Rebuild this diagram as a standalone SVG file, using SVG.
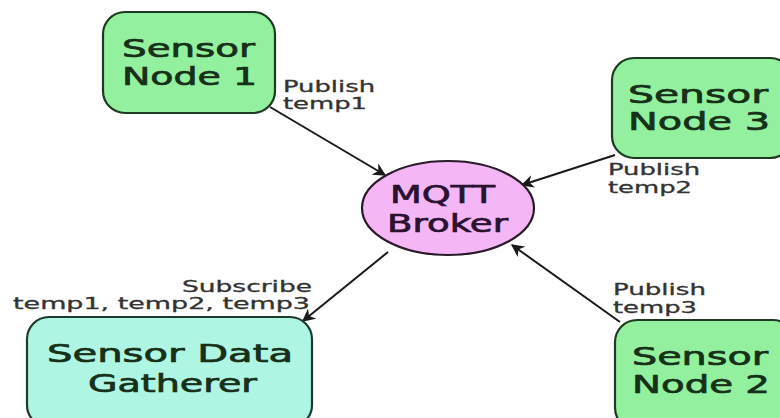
<svg xmlns="http://www.w3.org/2000/svg" width="780" height="418" viewBox="0 0 780 418">
<style>
.sensor{fill:#92f09f;stroke:#1e3a22;stroke-width:2.2}
.gath{fill:#aef5e3;stroke:#1e3a2e;stroke-width:2.2}
.broker{fill:#f4b6f4;stroke:#2a1a2a;stroke-width:2.2}
.nt{font-family:"DejaVu Sans",sans-serif;font-size:25px;fill:#173018;stroke:#173018;stroke-width:0.7}
.bt{font-family:"DejaVu Sans",sans-serif;font-size:25px;fill:#2a1230;stroke:#2a1230;stroke-width:0.7}
.lb{font-family:"DejaVu Sans",sans-serif;font-size:15px;fill:#333333;stroke:#333333;stroke-width:0.3}
.conn{stroke:#1a1a1a;stroke-width:2;fill:none;marker-end:url(#ah)}
</style>
<defs>
<marker id="ah" viewBox="0 0 10 10" refX="9" refY="5" markerWidth="6.5" markerHeight="6.5" markerUnits="strokeWidth" orient="auto">
<path d="M0,0 L10,5 L0,10 L3,5 Z" fill="#1a1a1a"/>
</marker>
</defs>
<rect width="780" height="418" fill="#ffffff"/>
<g id="connectors">
<line class="conn" x1="270" y1="107" x2="385" y2="175"/>
<line class="conn" x1="615" y1="155" x2="522" y2="185"/>
<line class="conn" x1="620" y1="322" x2="512" y2="245"/>
<line class="conn" x1="388" y1="252" x2="303" y2="321"/>
<text class="lb" x="283" y="92" textLength="92" lengthAdjust="spacingAndGlyphs">Publish</text>
<text class="lb" x="283" y="109" textLength="84" lengthAdjust="spacingAndGlyphs">temp1</text>
<text class="lb" x="608" y="175" textLength="92" lengthAdjust="spacingAndGlyphs">Publish</text>
<text class="lb" x="608" y="193" textLength="84" lengthAdjust="spacingAndGlyphs">temp2</text>
<text class="lb" x="613" y="295" textLength="93" lengthAdjust="spacingAndGlyphs">Publish</text>
<text class="lb" x="613" y="313" textLength="84" lengthAdjust="spacingAndGlyphs">temp3</text>
<text class="lb" x="182" y="292" textLength="130" lengthAdjust="spacingAndGlyphs">Subscribe</text>
<text class="lb" x="13" y="309" textLength="297" lengthAdjust="spacingAndGlyphs">temp1, temp2, temp3</text>
</g>
<g id="sensor-node-1">
<rect class="sensor" x="103" y="12" width="172" height="101" rx="22"/>
<text class="nt" x="122" y="57" textLength="133" lengthAdjust="spacingAndGlyphs">Sensor</text>
<text class="nt" x="122" y="85" textLength="135" lengthAdjust="spacingAndGlyphs">Node 1</text>
</g>
<g id="sensor-node-3">
<rect class="sensor" x="612" y="58" width="180" height="100" rx="22"/>
<text class="nt" x="628" y="103" textLength="140" lengthAdjust="spacingAndGlyphs">Sensor</text>
<text class="nt" x="628" y="130" textLength="142" lengthAdjust="spacingAndGlyphs">Node 3</text>
</g>
<g id="mqtt-broker">
<ellipse class="broker" cx="448" cy="208" rx="86" ry="47"/>
<text class="bt" x="390" y="203" textLength="105" lengthAdjust="spacingAndGlyphs">MQTT</text>
<text class="bt" x="387" y="232" textLength="121" lengthAdjust="spacingAndGlyphs">Broker</text>
</g>
<g id="sensor-data-gatherer">
<rect class="gath" x="27" y="317" width="285" height="110" rx="22"/>
<text class="nt" x="47" y="362" textLength="246" lengthAdjust="spacingAndGlyphs">Sensor Data</text>
<text class="nt" x="88" y="392" textLength="169" lengthAdjust="spacingAndGlyphs">Gatherer</text>
</g>
<g id="sensor-node-2">
<rect class="sensor" x="615" y="320" width="180" height="110" rx="22"/>
<text class="nt" x="632" y="365" textLength="136" lengthAdjust="spacingAndGlyphs">Sensor</text>
<text class="nt" x="632" y="393" textLength="138" lengthAdjust="spacingAndGlyphs">Node 2</text>
</g>
</svg>
